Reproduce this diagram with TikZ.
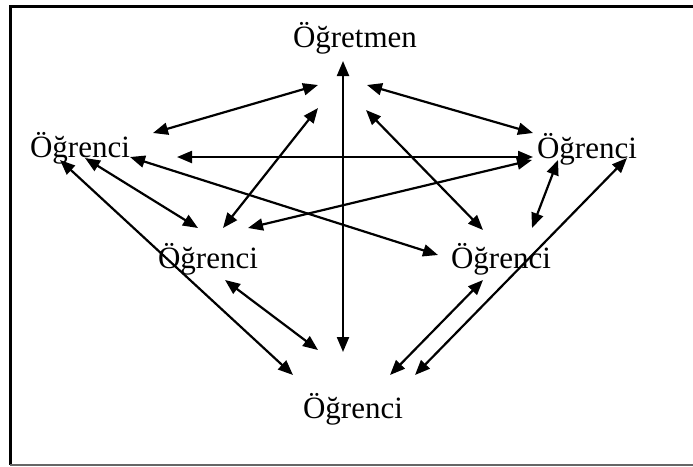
\documentclass[tikz,border=0pt]{standalone}
\usepackage{fontspec}
\setmainfont{Liberation Serif}
\usepackage{tikz}
\usetikzlibrary{arrows.meta, calc}

\begin{document}
\begin{tikzpicture}[x=1pt, y=-1pt,
    lbl/.style={inner sep=0pt, anchor=base, font=\fontsize{31}{36}\selectfont},
    link/.style={{Triangle[length=15pt, width=12pt]}-{Triangle[length=15pt, width=12pt]}, line width=2.2pt}]
        \useasboundingbox (0,0) rectangle (693,466);
        \clip (0,0) rectangle (693,466);
        \draw[line width=3pt] (710,6) -- (10,6) -- (10,465);
        \draw[line width=1.2pt, black!60] (10,465) -- (710,465);
        % roles
        \node[lbl] (T)  at (355,47)  {Öğretmen};
        \node[lbl] (L)  at (80,157)  {Öğrenci};
        \node[lbl] (R)  at (587,158) {Öğrenci};
        \node[lbl] (ML) at (208,268) {Öğrenci};
        \node[lbl] (MR) at (501,268) {Öğrenci};
        \node[lbl] (B)  at (353,418) {Öğrenci};
        % teacher links
        \draw[link] ($(T.base)+(-37,38)$) -- ($(L.base)+(73,-24)$);
        \draw[link] ($(T.base)+(12,38)$)  -- ($(R.base)+(-54,-25)$);
        \draw[link] ($(T.base)+(-12,14)$) -- ($(B.base)+(-10,-66)$);
        \draw[link] ($(T.base)+(-37,61)$) -- ($(ML.base)+(15,-40)$);
        \draw[link] ($(T.base)+(11,63)$)  -- ($(MR.base)+(-18,-38)$);
        % student links
        \draw[link] ($(L.base)+(97,0)$)   -- ($(R.base)+(-54,-1)$);
        \draw[link] ($(R.base)+(-55,2)$)  -- ($(ML.base)+(40,-40)$);
        \draw[link] ($(L.base)+(50,0)$)   -- ($(MR.base)+(-63,-13)$);
        \draw[link] ($(L.base)+(5,1)$)    -- ($(ML.base)+(-10,-40)$);
        \draw[link] ($(L.base)+(-20,3)$)  -- ($(B.base)+(-60,-43)$);
        \draw[link] ($(R.base)+(-29,2)$)  -- ($(MR.base)+(31,-40)$);
        \draw[link] ($(R.base)+(40,0)$)   -- ($(B.base)+(62,-43)$);
        \draw[link] ($(ML.base)+(17,12)$) -- ($(B.base)+(-35,-68)$);
        \draw[link] ($(MR.base)+(-18,12)$) -- ($(B.base)+(37,-43)$);
      \end{tikzpicture}
\end{document}
